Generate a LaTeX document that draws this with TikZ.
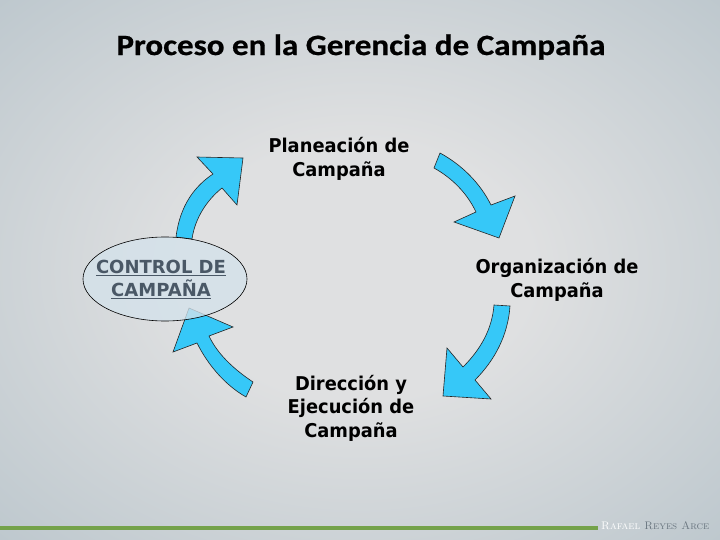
\documentclass[tikz,border=0pt]{standalone}
\usepackage{fontspec}
\newfontfamily\tah{DejaVu Sans}[FakeStretch=0.94]
\newfontfamily\verd{DejaVu Sans}
\newfontfamily\ttl{Carlito}[FakeStretch=1.12, FakeBold=0.6]
\usetikzlibrary{shapes.geometric}
\definecolor{bgin}{HTML}{DFE0E1}
\definecolor{bgout}{HTML}{A9B9C2}
\definecolor{arrowblue}{HTML}{36C8F8}
\definecolor{ellfill}{HTML}{D4E2EB}
\definecolor{ctrl}{HTML}{4A5866}
\definecolor{barline}{HTML}{74A24A}
\definecolor{sigdark}{HTML}{6A7680}
\pgfdeclareradialshading{bgshade}{\pgfpoint{0bp}{0bp}}{color(0bp)=(bgin); color(12bp)=(bgin); color(50bp)=(bgout)}
\tikzset{
  blockarrow/.style={fill=arrowblue, draw=black!85, line width=0.6pt, line join=miter},
  stagetext/.style={align=center, inner sep=0pt, font=\tah\bfseries\fontsize{19}{23.5}\selectfont, text=black},
}
\begin{document}
\begin{tikzpicture}[x=1pt,y=-1pt]
\useasboundingbox (0,0) rectangle (720,540);
\path[shading=bgshade] (0,0) rectangle (720,540);

% title
\node[inner sep=0pt, font=\ttl\bfseries\fontsize{29.5}{32}\selectfont] (title) at (361,47) {Proceso en la Gerencia de Campaña};

% arrows
\draw[blockarrow] (176,237) .. controls (180,205) and (195,186) .. (213,174)
  -- (197,157) -- (243,158) -- (237,205) -- (222,188)
  .. controls (207,200) and (195,218) .. (192,239) -- cycle;
\draw[blockarrow] (440,153) .. controls (462,165) and (480,183) .. (491,205)
  -- (515,196) -- (499,238) -- (454,222) -- (476,212)
  .. controls (467,193) and (452,178) .. (434,168) -- cycle;
\draw[blockarrow] (510,306) .. controls (508,335) and (495,360) .. (475,380)
  -- (491,399) -- (443,396) -- (447,348) -- (463,367)
  .. controls (480,350) and (492,330) .. (494,305) -- cycle;
\draw[blockarrow] (253,382) .. controls (235,370) and (218,355) .. (209,336)
  -- (233,327) -- (189,308) -- (173,352) -- (197,343)
  .. controls (208,365) and (225,385) .. (246,397) -- cycle;

% control ellipse
\node[ellipse, draw=black, line width=0.6pt, fill=ellfill, fill opacity=0.78, text opacity=1,
  minimum width=164pt, minimum height=84pt, inner sep=0pt] (control) at (165,279) {};
\node[align=center, inner sep=0pt, font=\verd\bfseries\fontsize{18}{22.5}\selectfont, text=ctrl] (controltext) at (161,279.5)
  {\underline{CONTROL DE}\\\underline{CAMPAÑA}};

% stage texts
\node[stagetext] (plan) at (339,159) {Planeación de\\Campaña};
\node[stagetext] (org) at (557,280) {Organización de\\Campaña};
\node[stagetext] (dir) at (351,408) {Dirección y\\Ejecución de\\Campaña};

% footer
\draw[barline, line width=4pt] (0,528) coordinate (barstart) -- (598,528) coordinate (barend);
\node[anchor=west, inner sep=0pt, font=\fontsize{11}{12}\selectfont\scshape] (sig) at (601,526)
  {\textcolor{white}{Rafael} \textcolor{sigdark}{Reyes Arce}};
\end{tikzpicture}
\end{document}
